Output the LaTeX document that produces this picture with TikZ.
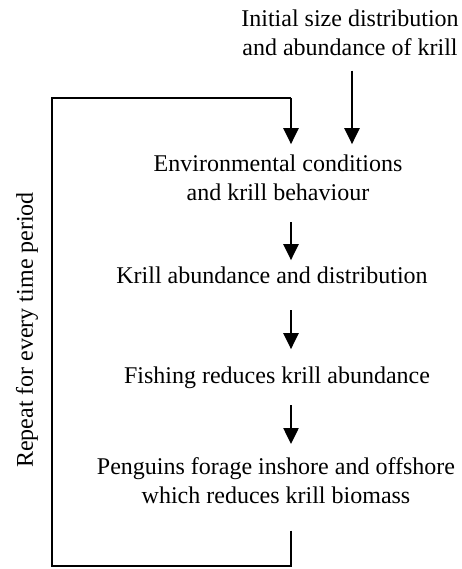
\documentclass[tikz,border=0pt]{standalone}
\usepackage{fontspec}
\setmainfont{Liberation Serif}
\usepackage{tikz}
\usetikzlibrary{arrows.meta}

\begin{document}
\begin{tikzpicture}[x=1pt,y=-1pt,
  txt/.style={font=\fontsize{24}{29}\selectfont,align=center,inner sep=0pt},
  arr/.style={-{Triangle[width=15pt,length=16pt]},line width=2.4pt},
  loop/.style={line width=2.4pt}]
\useasboundingbox (0,0) rectangle (461,569);

\node[txt] (I) at (350,32.5) {Initial size distribution\\and abundance of krill};
\node[txt] (E) at (278,177.3) {Environmental conditions\\and krill behaviour};
\node[txt,anchor=base] (A) at (272,283) {Krill abundance and distribution};
\node[txt,anchor=base] (F) at (277,383) {Fishing reduces krill abundance};
\node[txt] (P) at (276,480.3) {Penguins forage inshore and offshore\\which reduces krill biomass};

\node[txt,rotate=90] (R) at (27,330) {Repeat for every time period};

\coordinate (ax) at (291,0);
\coordinate (ax2) at (352,0);
\coordinate (lt) at (52,98);
\coordinate (lb) at (52,566);

\path [arr] (I.south -| ax2) edge[shorten <=15pt,shorten >=10pt] (E.north -| ax2);
\path [arr] (E.south -| ax) edge[shorten <=22pt,shorten >=6pt] (A.north -| ax);
\path [arr] (A.south -| ax) edge[shorten <=27pt,shorten >=17pt] (F.north -| ax);
\path [arr] (F.south -| ax) edge[shorten <=17pt,shorten >=13pt] (P.north -| ax);

\draw [loop,shorten <=27pt] (P.south -| ax) -- (ax |- lb) -- (lb) -- (lt) -- (ax |- lt);
\draw [arr,shorten >=10pt] (ax |- lt) -- (E.north -| ax);

\end{tikzpicture}
\end{document}
